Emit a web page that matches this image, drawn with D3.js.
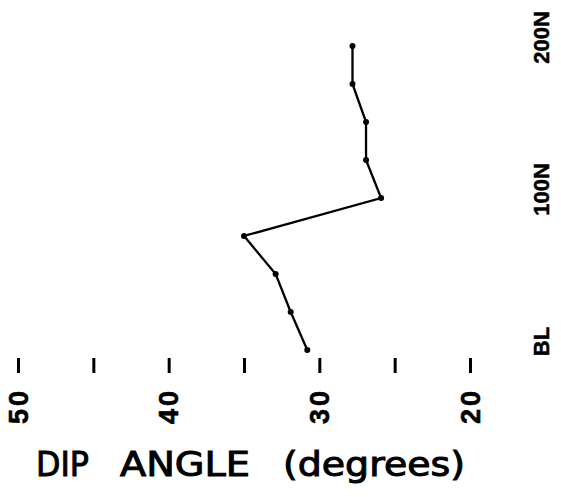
<!DOCTYPE html>
<html>
<head>
<meta charset="utf-8">
<script src="https://cdn.jsdelivr.net/npm/d3@7"></script>
<style>
  body { margin: 0; background: #fff; }
  svg { display: block; }
</style>
</head>
<body>
<div id="viz"></div>
<script>
// stations along the line (BL = 0, north positive) and measured dip angles
const stations = [0, 25, 50, 75, 100, 125, 150, 175, 200];
const dipAngles = [30.8, 31.9, 32.9, 35.0, 25.9, 26.9, 26.9, 27.8, 27.8];

const xTickValues = [50, 45, 40, 35, 30, 25, 20];
const xLabelled = [50, 40, 30, 20];
const yTickValues = [0, 100, 200];
const yTickLabels = ["BL", "100N", "200N"];

const width = 561, height = 497;

const svg = d3.select("#viz").append("svg")
    .attr("width", width)
    .attr("height", height);

const x = d3.scaleLinear()
    .domain([50, 20])
    .range([18, 470]);

const y = d3.scaleLinear()
    .domain([0, 200])
    .range([350, 46]);

// x axis: tick marks only, labels turned on their side
const xAxis = d3.axisBottom(x)
    .tickValues(xTickValues)
    .tickSize(15)
    .tickFormat(d => xLabelled.includes(d) ? d : "");

const gx = svg.append("g")
    .attr("transform", "translate(0,358)")
    .call(xAxis);

gx.select(".domain").remove();
gx.selectAll(".tick line")
    .attr("stroke", "#000")
    .attr("stroke-width", 3);
gx.selectAll(".tick text")
    .attr("y", 0)
    .attr("dy", "0.36em")
    .attr("transform", "translate(-0.5,48) rotate(-90)")
    .attr("text-anchor", "middle")
    .attr("fill", "#000")
    .attr("stroke", "#000")
    .attr("stroke-width", 0.6)
    .style("font-family", "'Liberation Sans', Arial, sans-serif")
    .style("font-weight", "bold")
    .style("font-size", "27px")
    .style("letter-spacing", "3px");

// station labels on the right
const yAxis = d3.axisRight(y)
    .tickValues(yTickValues)
    .tickSize(0)
    .tickFormat((d, i) => yTickLabels[i]);

const gy = svg.append("g")
    .attr("transform", "translate(541,0)")
    .call(yAxis);

gy.select(".domain").remove();
gy.selectAll(".tick text")
    .attr("x", 0)
    .attr("y", 0)
    .attr("dy", "0.36em")
    .attr("transform", "translate(0,-9) rotate(-90)")
    .attr("text-anchor", "middle")
    .attr("fill", "#000")
    .attr("stroke", "#000")
    .attr("stroke-width", 0.5)
    .style("font-family", "'Liberation Sans', Arial, sans-serif")
    .style("font-weight", "bold")
    .style("font-size", "22px");

// profile line
const line = d3.line()
    .x((d, i) => x(dipAngles[i]))
    .y(d => y(d));

svg.append("path")
    .datum(stations)
    .attr("d", line)
    .attr("fill", "none")
    .attr("stroke", "#000")
    .attr("stroke-width", 2.3);

svg.selectAll("circle")
    .data(stations)
    .enter()
    .append("circle")
    .attr("cx", (d, i) => x(dipAngles[i]))
    .attr("cy", d => y(d))
    .attr("r", 3)
    .attr("fill", "#000");

// axis title, words spaced apart like the lettering
const titleWords = [
    { text: "DIP", x: 36, len: 53 },
    { text: "ANGLE", x: 120, len: 130 },
    { text: "(degrees)", x: 283, len: 182 }
];

svg.selectAll(".title-word")
    .data(titleWords)
    .enter()
    .append("text")
    .attr("class", "title-word")
    .attr("x", d => d.x)
    .attr("y", 476)
    .attr("textLength", d => d.len)
    .attr("lengthAdjust", "spacingAndGlyphs")
    .style("font-family", "'DejaVu Sans', sans-serif")
    .style("font-size", "34px")
    .attr("fill", "#000")
    .attr("stroke", "#000")
    .attr("stroke-width", 1)
    .text(d => d.text);
</script>
</body>
</html>
